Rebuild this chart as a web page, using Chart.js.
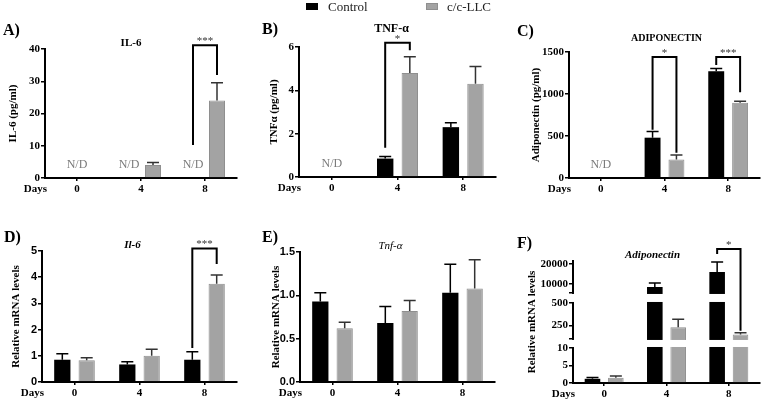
<!DOCTYPE html>
<html>
<head>
<meta charset="utf-8">
<script src="https://cdn.jsdelivr.net/npm/chart.js@4.4.1/dist/chart.umd.min.js"></script>
<style>
  body { margin: 0; background: #fff; width: 763px; height: 401px; position: relative; overflow: hidden; font-family: "Liberation Serif", "Times New Roman", serif; }
  canvas { position: absolute; }
  .tag { position: absolute; font-weight: bold; font-size: 16px; line-height: 18px; color: #000; z-index: 2; }
  .sw { position: absolute; top: 3px; width: 12px; height: 7px; z-index: 2; }
  .lt { position: absolute; top: -1px; font-size: 13px; line-height: 15px; color: #222; z-index: 2; }
</style>
</head>
<body>
<canvas id="chA" style="left:0px;top:0px" width="240" height="198"></canvas>
<canvas id="chB" style="left:250px;top:0px" width="249" height="197"></canvas>
<canvas id="chC" style="left:500px;top:0px" width="263" height="198"></canvas>
<canvas id="chD" style="left:0px;top:200px" width="240" height="200"></canvas>
<canvas id="chE" style="left:250px;top:200px" width="248" height="200"></canvas>
<canvas id="chF" style="left:500px;top:200px" width="263" height="201"></canvas>

<div class="tag" style="left:3px;top:21px">A)</div>
<div class="tag" style="left:262px;top:20px">B)</div>
<div class="tag" style="left:517px;top:22px">C)</div>
<div class="tag" style="left:4px;top:228px">D)</div>
<div class="tag" style="left:262px;top:228px">E)</div>
<div class="tag" style="left:517px;top:234px">F)</div>

<span class="sw" style="left:306px;background:#000"></span>
<span class="lt" id="lg0" style="left:328px"></span>
<span class="sw" style="left:426px;background:#a3a3a3;border:1px solid #8f8f8f;width:10px;height:5px"></span>
<span class="lt" id="lg1" style="left:447px"></span>

<script>
const days = ['0', '4', '8'];
const groups = ['Control', 'c/c-LLC'];

// A) IL-6 protein, pg/ml (null = N/D)
const il6Control = [null, null, null];
const il6Llc = [null, 4.0, 24.0];
const il6ControlSem = [null, null, null];
const il6LlcSem = [null, 0.8, 5.5];
const il6Ticks = [0, 10, 20, 30, 40];

// B) TNF-alpha protein, pg/ml
const tnfControl = [null, 0.85, 2.3];
const tnfLlc = [null, 4.8, 4.3];
const tnfControlSem = [null, 0.1, 0.2];
const tnfLlcSem = [null, 0.75, 0.8];
const tnfTicks = [0, 2, 4, 6];

// C) adiponectin protein, pg/ml
const adipoControl = [null, 480, 1270];
const adipoLlc = [null, 220, 895];
const adipoControlSem = [null, 75, 35];
const adipoLlcSem = [null, 55, 20];
const adipoTicks = [0, 500, 1000, 1500];

// D) Il-6 mRNA
const il6mControl = [0.85, 0.67, 0.85];
const il6mLlc = [0.83, 1.0, 3.75];
const il6mControlSem = [0.23, 0.1, 0.3];
const il6mLlcSem = [0.1, 0.25, 0.33];
const il6mTicks = [0, 1, 2, 3, 4, 5];

// E) Tnf-alpha mRNA
const tnfmControl = [0.93, 0.68, 1.03];
const tnfmLlc = [0.62, 0.82, 1.08];
const tnfmControlSem = [0.1, 0.19, 0.33];
const tnfmLlcSem = [0.07, 0.12, 0.33];
const tnfmTicks = [0, 0.5, 1, 1.5];
const tnfmTickLabels = ['0.0', '0.5', '1.0', '1.5'];

// F) adiponectin mRNA (broken axis)
const adipomControl = [1.2, 8500, 16000];
const adipomLlc = [1.5, 230, 150];
const adipomControlSem = [0.4, 2000, 5000];
const adipomLlcSem = [0.5, 90, 20];
const adipomTicks = [0, 5, 10, 100, 250, 500, 5500, 10000, 20000];
const adipomTickLabels = ['0', '5', '10', '', '250', '500', '', '10000', '20000'];

// significance brackets: day index, bracket top, left leg end, right leg end (data units)
const il6Sig = [{ day: 2, top: 41.2, left: 10.2, right: 31.9, mark: '***' }];
const tnfSig = [{ day: 1, top: 6.2, left: 1.35, right: 5.85, mark: '*' }];
const adipoSig = [
  { day: 1, top: 1440, left: 575, right: 300, mark: '*' },
  { day: 2, top: 1440, left: 1345, right: 1020, mark: '***' }
];
const il6mSig = [{ day: 2, top: 5.1, left: 1.3, right: 4.5, mark: '***' }];
const adipomSig = [{ day: 2, top: 27500, left: 25000, right: 190, mark: '*' }];

// not-detected labels: [day index, dataset index or null for group centre]
const il6Nd = [[0, null], [1, 0], [2, 0]];
const tnfNd = [[0, null]];
const adipoNd = [[0, null]];

// value ranges of the three pieces of the broken axis in F
const brokenPieces = [
  { min: 0, max: 10, lo: 0, hi: 0.287 },
  { min: 100, max: 500, lo: 0.361, hi: 0.656 },
  { min: 5500, max: 21500, lo: 0.738, hi: 1 }
];

document.getElementById('lg0').textContent = groups[0];
document.getElementById('lg1').textContent = groups[1];

class BrokenScale extends Chart.LinearScale {
  getPixelForValue(v) {
    if (v === null || v === undefined || isNaN(v)) return NaN;
    let s = brokenPieces[brokenPieces.length - 1];
    for (const piece of brokenPieces) {
      if (v <= piece.max) { s = piece; break; }
    }
    const f = s.lo + (v - s.min) / (s.max - s.min) * (s.hi - s.lo);
    return this.bottom - f * (this.bottom - this.top);
  }
  getValueForPixel() { return 0; }
}
BrokenScale.id = 'broken';
BrokenScale.defaults = { ticks: { callback: v => v } };
Chart.register(BrokenScale);

const SERIF = '"Liberation Serif", "Times New Roman", serif';
const SANS = '"Liberation Sans", Arial, sans-serif';

function makeChart(id, p) {
  const extras = {
    id: 'extras',
    afterDatasetsDraw(chart) {
      const { ctx, chartArea: a } = chart;
      const y = chart.scales.y;
      ctx.save();
      ctx.beginPath();
      ctx.rect(a.left, a.top - 1, a.right - a.left, a.bottom - a.top + 1);
      ctx.clip();
      [p.sem0, p.sem1].forEach((sem, i) => {
        const meta = chart.getDatasetMeta(i);
        sem.forEach((e, j) => {
          const v = chart.data.datasets[i].data[j];
          if (e == null || v == null) return;
          const x = meta.data[j].x;
          const y0 = y.getPixelForValue(v);
          const y1 = y.getPixelForValue(v + e);
          ctx.strokeStyle = i ? '#333' : '#000';
          ctx.lineWidth = 1.5;
          ctx.beginPath();
          ctx.moveTo(x, y0); ctx.lineTo(x, y1);
          ctx.moveTo(x - 6, y1); ctx.lineTo(x + 6, y1);
          ctx.stroke();
        });
      });
      ctx.restore();
      if (p.broken) {
        ctx.save();
        ctx.fillStyle = '#fff';
        for (let k = 0; k < brokenPieces.length - 1; k++) {
          const yLow = y.getPixelForValue(brokenPieces[k].max);
          const yHigh = y.getPixelForValue(brokenPieces[k + 1].min);
          ctx.fillRect(a.left - 1.5, yHigh + 1, a.right - a.left + 4, yLow - yHigh - 2);
        }
        ctx.restore();
      }
    },
    afterDraw(chart) {
      const { ctx, chartArea: a } = chart;
      const y = chart.scales.y;
      const m0 = chart.getDatasetMeta(0), m1 = chart.getDatasetMeta(1);
      ctx.save();
      // brackets
      (p.sig || []).forEach(s => {
        const x1 = m0.data[s.day].x, x2 = m1.data[s.day].x;
        const yt = y.getPixelForValue(s.top);
        ctx.strokeStyle = '#000';
        ctx.lineWidth = 2;
        ctx.lineJoin = 'miter';
        ctx.beginPath();
        ctx.moveTo(x1, y.getPixelForValue(s.left));
        ctx.lineTo(x1, yt);
        ctx.lineTo(x2, yt);
        ctx.lineTo(x2, y.getPixelForValue(s.right));
        ctx.stroke();
        ctx.fillStyle = '#333';
        ctx.font = '11px ' + SERIF;
        ctx.textAlign = 'center';
        ctx.textBaseline = 'alphabetic';
        ctx.fillText(s.mark, (x1 + x2) / 2, yt - 1);
      });
      // N/D labels
      ctx.font = '12px ' + SERIF;
      ctx.fillStyle = '#7a7a7a';
      ctx.textAlign = 'center';
      ctx.textBaseline = 'middle';
      (p.nd || []).forEach(([d, ds]) => {
        const x = ds === null ? chart.scales.x.getPixelForValue(d) : chart.getDatasetMeta(ds).data[d].x;
        ctx.fillText('N/D', x, a.bottom - 13);
      });
      // panel title
      ctx.fillStyle = '#000';
      ctx.font = p.titleFont;
      ctx.textBaseline = 'middle';
      ctx.fillText(p.title, (a.left + a.right) / 2 + p.titleDx, a.top + p.titleDy);
      // "Days" axis label
      ctx.font = 'bold 11px ' + SERIF;
      ctx.textAlign = 'right';
      ctx.fillText('Days', a.left + 2, a.bottom + 11);
      ctx.restore();
    }
  };

  return new Chart(document.getElementById(id), {
    type: 'bar',
    data: {
      labels: days,
      datasets: [
        { label: groups[0], data: p.data0, backgroundColor: '#000', borderWidth: 0, categoryPercentage: 0.75, barPercentage: 0.667 },
        { label: groups[1], data: p.data1, backgroundColor: '#a3a3a3', borderColor: '#8f8f8f', borderWidth: 1, categoryPercentage: 0.75, barPercentage: 0.667 }
      ]
    },
    options: {
      responsive: false,
      animation: false,
      events: [],
      layout: { padding: { top: p.padTop, right: p.padRight, left: 0, bottom: 0 } },
      plugins: { legend: { display: false }, tooltip: { enabled: false } },
      scales: {
        x: {
          grid: { offset: false, drawOnChartArea: false, drawTicks: true, tickLength: 3, color: '#000', lineWidth: 1.5 },
          border: { color: '#000', width: 2 },
          ticks: { color: '#000', font: { family: SERIF, size: 11, weight: 'bold' }, padding: 2, maxRotation: 0 },
          afterFit: s => { s.height = p.xh; }
        },
        y: {
          type: p.broken ? 'broken' : 'linear',
          min: p.ticks[0],
          max: p.max,
          afterBuildTicks: s => { s.ticks = p.ticks.map(v => ({ value: v })); },
          afterFit: s => { s.width = p.yw; },
          ticks: {
            autoSkip: false, color: '#000', padding: 1,
            font: { family: p.tickFamily, size: 11, weight: 'bold' },
            callback: (v, i) => (p.tickLabels ? p.tickLabels[i] : String(p.ticks[i]))
          },
          grid: { drawOnChartArea: false, drawTicks: true, tickLength: 4, color: '#000', lineWidth: 1.5 },
          border: { color: '#000', width: 2 },
          title: {
            display: true, text: p.yTitle, color: '#000',
            font: { family: SERIF, size: 11, weight: 'bold' },
            padding: { top: p.titlePad, bottom: 0 }
          }
        }
      }
    },
    plugins: [extras]
  });
}

makeChart('chA', {
  data0: il6Control, data1: il6Llc, sem0: il6ControlSem, sem1: il6LlcSem,
  ticks: il6Ticks, max: 40, sig: il6Sig, nd: il6Nd,
  yTitle: 'IL-6 (pg/ml)', title: 'IL-6', titleFont: 'bold 11px ' + SERIF, titleDx: -10, titleDy: -6,
  yw: 45, xh: 20, padTop: 49, padRight: 3, titlePad: 7, tickFamily: SERIF
});
makeChart('chB', {
  data0: tnfControl, data1: tnfLlc, sem0: tnfControlSem, sem1: tnfLlcSem,
  ticks: tnfTicks, max: 6, sig: tnfSig, nd: tnfNd,
  yTitle: 'TNFα (pg/ml)', title: 'TNF-α', titleFont: 'bold 12px ' + SERIF, titleDx: -6, titleDy: -18,
  yw: 49, xh: 20, padTop: 47, padRight: 3, titlePad: 18, tickFamily: SERIF
});
makeChart('chC', {
  data0: adipoControl, data1: adipoLlc, sem0: adipoControlSem, sem1: adipoLlcSem,
  ticks: adipoTicks, max: 1500, sig: adipoSig, nd: adipoNd,
  yTitle: 'Adiponectin (pg/ml)', title: 'ADIPONECTIN', titleFont: 'bold 10px ' + SERIF, titleDx: 2, titleDy: -14,
  yw: 69, xh: 20, padTop: 52, padRight: 3, titlePad: 30, tickFamily: SERIF
});
makeChart('chD', {
  data0: il6mControl, data1: il6mLlc, sem0: il6mControlSem, sem1: il6mLlcSem,
  ticks: il6mTicks, max: 5, sig: il6mSig,
  yTitle: 'Relative mRNA levels', title: 'Il-6', titleFont: 'italic bold 11px ' + SERIF, titleDx: -7, titleDy: -6,
  yw: 42, xh: 18, padTop: 51, padRight: 3, titlePad: 10, tickFamily: SANS
});
makeChart('chE', {
  data0: tnfmControl, data1: tnfmLlc, sem0: tnfmControlSem, sem1: tnfmLlcSem,
  ticks: tnfmTicks, tickLabels: tnfmTickLabels, max: 1.5,
  yTitle: 'Relative mRNA levels', title: 'Tnf-α', titleFont: 'italic 11px ' + SERIF, titleDx: -7, titleDy: -6,
  yw: 50, xh: 18, padTop: 52, padRight: 3, titlePad: 20, tickFamily: SANS
});
makeChart('chF', {
  data0: adipomControl, data1: adipomLlc, sem0: adipomControlSem, sem1: adipomLlcSem,
  ticks: adipomTicks, tickLabels: adipomTickLabels, max: 21500, sig: adipomSig, broken: true,
  yTitle: 'Relative mRNA levels', title: 'Adiponectin', titleFont: 'italic bold 11px ' + SERIF, titleDx: -14, titleDy: -6,
  yw: 73, xh: 18, padTop: 61, padRight: 3, titlePad: 26, tickFamily: SERIF
});
</script>
</body>
</html>
